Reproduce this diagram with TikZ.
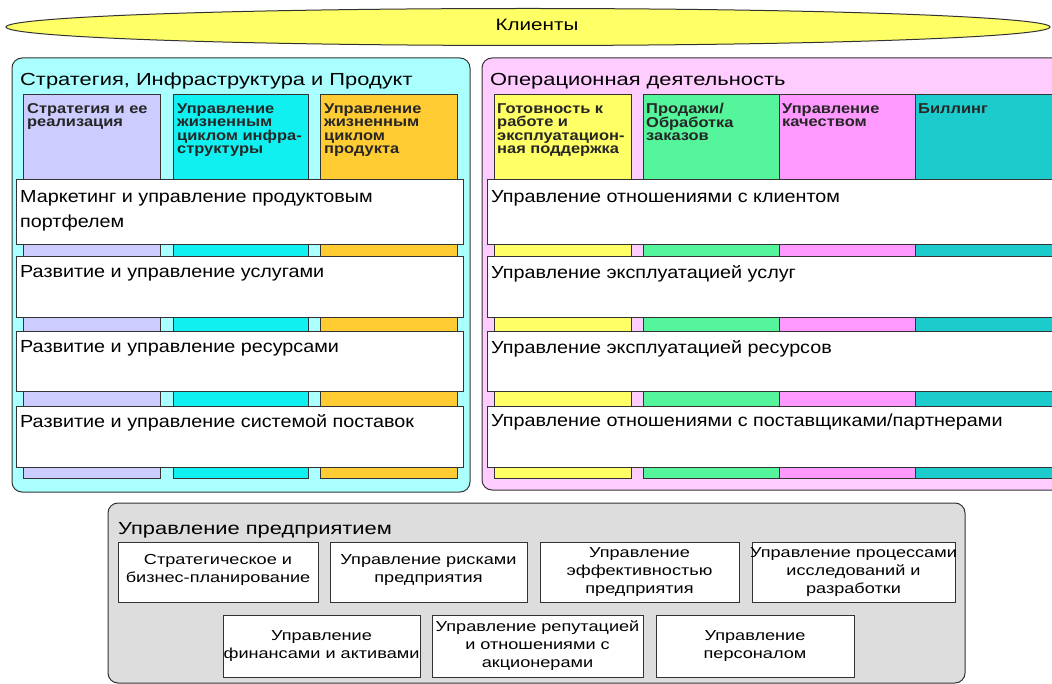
\documentclass[tikz,border=0pt]{standalone}
\usepackage{fontspec}
\setmainfont{Liberation Sans}
\newfontfamily\fA[FakeStretch=1.25]{Liberation Sans}
\newfontfamily\fB[FakeStretch=1.13]{Liberation Sans}
\newfontfamily\fC[FakeStretch=1.15]{Liberation Sans}
\usetikzlibrary{shapes.geometric}
\definecolor{ellY}{HTML}{FFFF66}
\definecolor{panC}{HTML}{AAFFFF}
\definecolor{panP}{HTML}{FFCCFF}
\definecolor{panG}{HTML}{DDDDDD}
\definecolor{cPurple}{HTML}{CCCCFF}
\definecolor{cCyan}{HTML}{10F0F0}
\definecolor{cOrange}{HTML}{FFCC33}
\definecolor{cYellow}{HTML}{FFFF66}
\definecolor{cGreen}{HTML}{55F59B}
\definecolor{cPink}{HTML}{FF99FF}
\definecolor{cTeal}{HTML}{1CCCCC}
\definecolor{edge}{HTML}{333333}
\newcommand\rect[6]{\node[#2, anchor=north west, inner sep=0pt, outer sep=0pt,
  minimum width={#5pt-#3pt}, minimum height={#6pt-#4pt}] (#1) at (#3,#4) {};}
\tikzset{
  panel/.style={draw=edge, line width=1pt, rounded corners=10pt},
  colbox/.style={draw=edge, line width=1pt},
  rowbox/.style={draw=edge, line width=1pt, fill=white},
  entbox/.style={draw=edge, line width=1pt, fill=white},
  ptitle/.style={font=\fA\fontsize{17.5}{20}\selectfont, inner sep=0pt, anchor=base west},
  coltext/.style={font=\fC\bfseries\fontsize{14.3}{13.6}\selectfont, align=left, inner sep=0pt, anchor=north west, text=black!85},
  rowtext/.style={font=\fB\fontsize{17.5}{25}\selectfont, align=left, inner sep=0pt, anchor=north west},
  enttext/.style={font=\fA\fontsize{14.5}{18}\selectfont, align=center, inner sep=0pt},
}
\begin{document}
\begin{tikzpicture}[x=1pt,y=-1pt]
\useasboundingbox (0,0) rectangle (1052,684);
\fill[white] (0,0) rectangle (1052,684);
\begin{scope}
\clip (0,0) rectangle (1052,684);
% clients ellipse
\node[ellipse, draw=edge, line width=1pt, fill=ellY, minimum width=1044pt, minimum height=37pt, inner sep=0pt] (clients) at (528,27) {};
\node[font=\fA\fontsize{16.5}{18}\selectfont, inner sep=0pt] (clientsT) at (537,25) {Клиенты};
% panels
\rect{left}{panel, fill=panC}{12}{58}{470}{492}
\rect{right}{panel, fill=panP}{482}{58}{1075}{490}
\rect{ent}{panel, fill=panG}{108}{503}{965}{683}
\node[ptitle] (leftT) at (20,86) {Стратегия, Инфраструктура и Продукт};
\node[ptitle] (rightT) at (490,86) {Операционная деятельность};
\node[ptitle] (entT) at (118,534) {Управление предприятием};
% left columns
\rect{c1}{colbox, fill=cPurple}{23}{95}{160}{478}
\rect{c2}{colbox, fill=cCyan}{173}{95}{308}{478}
\rect{c3}{colbox, fill=cOrange}{320}{95}{457}{478}
\node[coltext] (c1t) at ([shift={(4,8)}]c1.north west) {Стратегия и ее\\реализация};
\node[coltext] (c2t) at ([shift={(4,8)}]c2.north west) {Управление\\жизненным\\циклом инфра-\\структуры};
\node[coltext] (c3t) at ([shift={(4,8)}]c3.north west) {Управление\\жизненным\\циклом\\продукта};
% right columns
\rect{d1}{colbox, fill=cYellow}{494}{95}{631}{478}
\rect{d2}{colbox, fill=cGreen}{643}{95}{779}{478}
\rect{d3}{colbox, fill=cPink}{779}{95}{915}{478}
\rect{d4}{colbox, fill=cTeal}{915}{95}{1070}{478}
\node[coltext] (d1t) at ([shift={(3,8)}]d1.north west) {Готовность к\\работе и\\эксплуатацион-\\ная поддержка};
\node[coltext] (d2t) at ([shift={(3,8)}]d2.north west) {Продажи/\\Обработка\\заказов};
\node[coltext] (d3t) at ([shift={(3,8)}]d3.north west) {Управление\\качеством};
\node[coltext] (d4t) at ([shift={(3,8)}]d4.north west) {Биллинг};
% left rows
\rect{l1}{rowbox}{16}{180}{463}{245}
\rect{l2}{rowbox}{16}{257}{463}{318}
\rect{l3}{rowbox}{16}{332}{463}{392}
\rect{l4}{rowbox}{16}{406}{463}{467}
\node[rowtext] (l1t) at ([shift={(4,10)}]l1.north west) {Маркетинг и управление продуктовым\\портфелем};
\node[rowtext] (l2t) at ([shift={(4,8)}]l2.north west) {Развитие и управление услугами};
\node[rowtext] (l3t) at ([shift={(4,8)}]l3.north west) {Развитие и управление ресурсами};
\node[rowtext] (l4t) at ([shift={(4,8)}]l4.north west) {Развитие и управление системой поставок};
% right rows
\rect{r1}{rowbox}{487}{180}{1070}{245}
\rect{r2}{rowbox}{487}{257}{1070}{318}
\rect{r3}{rowbox}{487}{332}{1070}{392}
\rect{r4}{rowbox}{487}{406}{1070}{467}
\node[rowtext] (r1t) at ([shift={(4,10)}]r1.north west) {Управление отношениями с клиентом};
\node[rowtext] (r2t) at ([shift={(4,8)}]r2.north west) {Управление эксплуатацией услуг};
\node[rowtext] (r3t) at ([shift={(4,8)}]r3.north west) {Управление эксплуатацией ресурсов};
\node[rowtext] (r4t) at ([shift={(4,8)}]r4.north west) {Управление отношениями с поставщиками/партнерами};
% enterprise boxes
\rect{e1}{entbox}{118}{542}{318}{602}
\rect{e2}{entbox}{330}{542}{527}{602}
\rect{e3}{entbox}{540}{542}{739}{602}
\rect{e4}{entbox}{752}{542}{955}{602}
\rect{e5}{entbox}{223}{615}{420}{677}
\rect{e6}{entbox}{432}{615}{643}{677}
\rect{e7}{entbox}{656}{615}{854}{677}
\node[enttext] (e1t) at ([yshift=2pt]e1.center) {Стратегическое и\\бизнес-планирование};
\node[enttext] (e2t) at ([yshift=2pt]e2.center) {Управление рисками\\предприятия};
\node[enttext] (e3t) at (e3.center) {Управление\\эффективностью\\предприятия};
\node[enttext] (e4t) at (e4.center) {Управление процессами\\исследований и\\разработки};
\node[enttext] (e5t) at (e5.center) {Управление\\финансами и активами};
\node[enttext] (e6t) at (e6.center) {Управление репутацией\\и отношениями с\\акционерами};
\node[enttext] (e7t) at (e7.center) {Управление\\персоналом};
\end{scope}
\end{tikzpicture}
\end{document}
